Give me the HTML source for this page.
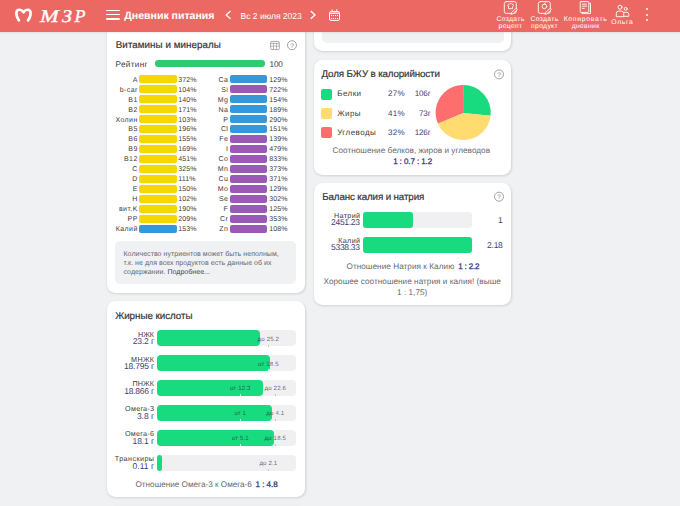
<!DOCTYPE html><html><head><meta charset="utf-8"><style>
html,body{margin:0;padding:0;}
body{width:680px;height:506px;overflow:hidden;background:#F0F1F3;position:relative;font-family:"Liberation Sans", "Noto Sans CJK SC", sans-serif;text-rendering:geometricPrecision;}
.t{position:absolute;white-space:nowrap;}
.b{position:absolute;}
.card{position:absolute;background:#fff;border-radius:8.5px;box-shadow:0.5px 1px 2.5px rgba(0,0,0,0.13);}
svg{position:absolute;overflow:visible;left:0;top:0;}
</style></head><body>
<div class="card" style="left:107px;top:20px;width:197.5px;height:272.6px;"></div>
<div class="card" style="left:313.5px;top:0px;width:197.7px;height:50.5px;"></div>
<div class="card" style="left:313.5px;top:60px;width:197.7px;height:114.5px;"></div>
<div class="card" style="left:313.5px;top:183px;width:197.7px;height:121.69999999999999px;"></div>
<div class="card" style="left:107px;top:301.1px;width:197.5px;height:196.39999999999998px;"></div>
<div class="card" style="left:107px;top:506px;width:197.5px;height:54px;"></div>
<div class="b" style="left:321.80px;top:20.00px;width:182.00px;height:22.80px;background:#F0F1F3;border-radius:5px;"></div>
<div class="b" style="left:0.00px;top:0.00px;width:680.00px;height:32.40px;background:#EC6963;border-radius:0px;box-shadow:0 1px 2px rgba(0,0,0,0.08);"></div>
<svg width="680" height="32"><path d="M19 20.5 C17 17.5 16.2 15 16.4 12.5 C16.6 10.3 18.3 9.6 19.8 9.7 C21.5 9.8 22.8 11 23.5 12.3 C24.2 11 25.5 9.8 27.2 9.7 C28.7 9.6 30.4 10.3 30.6 12.5 C30.8 15 30 17.5 28 20.5" fill="none" stroke="#fff" stroke-width="2.6" stroke-linecap="round" stroke-linejoin="round"/></svg>
<div class="t" style="left:39.60px;top:7px;font-size:18px;line-height:18px;color:#fff;font-weight:400;font-family:'Liberation Serif',serif;font-style:italic;-webkit-text-stroke:0.35px #fff;transform-origin:0 0;transform:scaleX(1.25);">М</div>
<div class="t" style="left:62.30px;top:7px;font-size:18px;line-height:18px;color:#fff;font-weight:400;font-family:'Liberation Serif',serif;font-style:italic;-webkit-text-stroke:0.35px #fff;transform-origin:0 0;transform:scaleX(1.12);">З</div>
<div class="t" style="left:74.60px;top:7px;font-size:18px;line-height:18px;color:#fff;font-weight:400;font-family:'Liberation Serif',serif;font-style:italic;-webkit-text-stroke:0.35px #fff;transform-origin:0 0;">Р</div>
<div class="b" style="left:106.30px;top:9.80px;width:13.30px;height:1.60px;background:#fff;border-radius:1px;"></div>
<div class="b" style="left:106.30px;top:13.90px;width:13.30px;height:1.60px;background:#fff;border-radius:1px;"></div>
<div class="b" style="left:106.30px;top:18.00px;width:13.30px;height:1.60px;background:#fff;border-radius:1px;"></div>
<div class="t" style="left:124.30px;top:11px;font-size:10.6px;line-height:10.6px;color:#fff;font-weight:700;letter-spacing:-0.028px;">Дневник питания</div>
<svg width="680" height="32"><path d="M230.5 11 L226.2 14.9 L230.5 18.8" fill="none" stroke="#fff" stroke-width="1.3"/><path d="M310.7 11 L315 14.9 L310.7 18.8" fill="none" stroke="#fff" stroke-width="1.3"/></svg>
<div class="t" style="left:240.50px;top:12px;font-size:8.6px;line-height:8.6px;color:#fff;font-weight:400;letter-spacing:-0.033px;">Вс 2 июля 2023</div>
<svg width="680" height="32" fill="none" stroke="#fff" stroke-width="1">
<rect x="329.5" y="11.5" width="10" height="8.9" rx="1.4"/>
<line x1="329.5" y1="13.2" x2="339.5" y2="13.2" stroke-width="1.3"/>
<line x1="332.1" y1="9.3" x2="332.1" y2="12"/><line x1="336.8" y1="9.3" x2="336.8" y2="12"/>
<g fill="#fff" stroke="none">
<rect x="331" y="15" width="1" height="1"/><rect x="333" y="15" width="1" height="1"/><rect x="335" y="15" width="1" height="1"/><rect x="337" y="15" width="1" height="1"/>
<rect x="331" y="18" width="1" height="1"/><rect x="333" y="18" width="1" height="1"/><rect x="335" y="18" width="1" height="1"/><rect x="337" y="18" width="1" height="1"/>
</g>
</svg>
<svg width="680" height="32" fill="none" stroke="#fff" stroke-width="0.9" stroke-linecap="round" stroke-linejoin="round">
<rect x="504.3" y="1.6" width="12" height="11.8" rx="2"/>
<path d="M507.8 5.9 a1.3 1.3 0 0 1 1.5 -1.7 a1.5 1.5 0 0 1 2.6 0 a1.3 1.3 0 0 1 1.5 1.7 l-0.8 0.7 v2.1 h-4 v-2.1 z"/>
<path d="M511.6 12.6 l4.4 -4.4 l1.3 1.3 l-4.4 4.4 l-1.6 0.3 z" fill="#EC6963"/>
<rect x="538.3" y="1.6" width="12" height="11.8" rx="2"/>
<circle cx="544.4" cy="6.4" r="2.3"/><path d="M544.4 4.1 l0.7 -1.2"/>
<path d="M545.6 12.6 l4.4 -4.4 l1.3 1.3 l-4.4 4.4 l-1.6 0.3 z" fill="#EC6963"/>
<path d="M589.3 3.3 h1.2 v10.3 h-8.6 v-1"/>
<rect x="580.2" y="1.6" width="8.6" height="10.8" rx="0.8"/>
<line x1="582.3" y1="4.1" x2="586.3" y2="4.1"/><line x1="582.3" y1="6.2" x2="586.6" y2="6.2"/><line x1="582.3" y1="8.4" x2="584.3" y2="8.4"/>
<circle cx="620" cy="7.2" r="2"/><path d="M616.3 16.3 v-3 a2.2 2.2 0 0 1 2.2 -2.2 h3 a2.2 2.2 0 0 1 2.2 2.2 v3 z"/>
<circle cx="625.7" cy="8.9" r="1.5"/><path d="M624.2 12.3 h2.6 a2 2 0 0 1 2 2 v2 h-5"/>
</svg>
<div class="t" style="left:360.50px;width:300px;text-align:center;top:17px;font-size:6.8px;line-height:6.8px;color:#fff;font-weight:400;letter-spacing:0.309px;">Создать</div>
<div class="t" style="left:360.50px;width:300px;text-align:center;top:24px;font-size:6.8px;line-height:6.8px;color:#fff;font-weight:400;letter-spacing:0.309px;">рецепт</div>
<div class="t" style="left:394.50px;width:300px;text-align:center;top:17px;font-size:6.8px;line-height:6.8px;color:#fff;font-weight:400;letter-spacing:0.309px;">Создать</div>
<div class="t" style="left:394.50px;width:300px;text-align:center;top:24px;font-size:6.8px;line-height:6.8px;color:#fff;font-weight:400;letter-spacing:0.309px;">продукт</div>
<div class="t" style="left:435.60px;width:300px;text-align:center;top:17px;font-size:6.8px;line-height:6.8px;color:#fff;font-weight:400;letter-spacing:0.721px;">Копировать</div>
<div class="t" style="left:435.60px;width:300px;text-align:center;top:24px;font-size:6.8px;line-height:6.8px;color:#fff;font-weight:400;letter-spacing:0.309px;">дневник</div>
<div class="t" style="left:472.40px;width:300px;text-align:center;top:20px;font-size:6.8px;line-height:6.8px;color:#fff;font-weight:400;letter-spacing:0.643px;">Ольга</div>
<div class="b" style="left:645.60px;top:7.80px;width:2.00px;height:2.00px;background:#fff;border-radius:1px;"></div>
<div class="b" style="left:645.60px;top:13.60px;width:2.00px;height:2.00px;background:#fff;border-radius:1px;"></div>
<div class="b" style="left:645.60px;top:19.30px;width:2.00px;height:2.00px;background:#fff;border-radius:1px;"></div>
<div class="t" style="left:115.80px;top:41px;font-size:9.8px;line-height:9.8px;color:#35353a;font-weight:400;-webkit-text-stroke:0.2px #35353a;letter-spacing:0.042px;">Витамины и минералы</div>
<svg width="1" height="1" fill="none" stroke="#909090" stroke-width="0.75">
<rect x="270.6" y="41.4" width="8.7" height="8.2" rx="1.3"/>
<line x1="270.6" y1="43.3" x2="279.3" y2="43.3"/>
<line x1="270.6" y1="46.1" x2="279.3" y2="46.1" stroke-width="0.6"/>
<line x1="273.5" y1="43.3" x2="273.5" y2="49.6" stroke-width="0.6"/><line x1="276.5" y1="43.3" x2="276.5" y2="49.6" stroke-width="0.6"/>
</svg>
<svg width="1" height="1"><circle cx="292" cy="45.2" r="4.5" fill="none" stroke="#8a8a8a" stroke-width="0.8"/><text x="292" y="47.5" font-size="6.5" text-anchor="middle" fill="#8a8a8a" font-family="Liberation Sans">?</text></svg>
<div class="t" style="left:115.60px;top:61px;font-size:8.2px;line-height:8.2px;color:#3d3d3f;font-weight:400;letter-spacing:0.306px;">Рейтинг</div>
<div class="b" style="left:155.20px;top:60.20px;width:109.60px;height:6.60px;background:#2ECC71;border-radius:3.3px;"></div>
<div class="t" style="left:269.50px;top:61px;font-size:8.2px;line-height:8.2px;color:#3d3d3f;font-weight:400;letter-spacing:-0.136px;">100</div>
<div class="t" style="right:542.29px;top:77px;font-size:7px;line-height:7px;color:#3c3c3e;font-weight:400;letter-spacing:0.412px;">A</div>
<div class="b" style="left:138.80px;top:75.10px;width:38.20px;height:8.10px;background:#F4D800;border-radius:2px;"></div>
<div class="t" style="left:178.20px;top:77px;font-size:7px;line-height:7px;color:#3c3c3e;font-weight:400;letter-spacing:0.165px;">372%</div>
<div class="t" style="right:451.69px;top:77px;font-size:7px;line-height:7px;color:#3c3c3e;font-weight:400;letter-spacing:0.412px;">Ca</div>
<div class="b" style="left:230.00px;top:75.10px;width:36.60px;height:8.10px;background:#3498DB;border-radius:2px;"></div>
<div class="t" style="left:269.20px;top:77px;font-size:7px;line-height:7px;color:#3c3c3e;font-weight:400;letter-spacing:0.165px;">129%</div>
<div class="t" style="right:542.29px;top:87px;font-size:7px;line-height:7px;color:#3c3c3e;font-weight:400;letter-spacing:0.412px;">b-car</div>
<div class="b" style="left:138.80px;top:85.07px;width:38.20px;height:8.10px;background:#F4D800;border-radius:2px;"></div>
<div class="t" style="left:178.20px;top:87px;font-size:7px;line-height:7px;color:#3c3c3e;font-weight:400;letter-spacing:0.165px;">104%</div>
<div class="t" style="right:451.69px;top:87px;font-size:7px;line-height:7px;color:#3c3c3e;font-weight:400;letter-spacing:0.412px;">Si</div>
<div class="b" style="left:230.00px;top:85.07px;width:36.60px;height:8.10px;background:#9B59B6;border-radius:2px;"></div>
<div class="t" style="left:269.20px;top:87px;font-size:7px;line-height:7px;color:#3c3c3e;font-weight:400;letter-spacing:0.165px;">722%</div>
<div class="t" style="right:542.29px;top:97px;font-size:7px;line-height:7px;color:#3c3c3e;font-weight:400;letter-spacing:0.412px;">B1</div>
<div class="b" style="left:138.80px;top:95.04px;width:38.20px;height:8.10px;background:#F4D800;border-radius:2px;"></div>
<div class="t" style="left:178.20px;top:97px;font-size:7px;line-height:7px;color:#3c3c3e;font-weight:400;letter-spacing:0.165px;">140%</div>
<div class="t" style="right:451.69px;top:97px;font-size:7px;line-height:7px;color:#3c3c3e;font-weight:400;letter-spacing:0.412px;">Mg</div>
<div class="b" style="left:230.00px;top:95.04px;width:36.60px;height:8.10px;background:#3498DB;border-radius:2px;"></div>
<div class="t" style="left:269.20px;top:97px;font-size:7px;line-height:7px;color:#3c3c3e;font-weight:400;letter-spacing:0.165px;">154%</div>
<div class="t" style="right:542.29px;top:107px;font-size:7px;line-height:7px;color:#3c3c3e;font-weight:400;letter-spacing:0.412px;">B2</div>
<div class="b" style="left:138.80px;top:105.01px;width:38.20px;height:8.10px;background:#F4D800;border-radius:2px;"></div>
<div class="t" style="left:178.20px;top:107px;font-size:7px;line-height:7px;color:#3c3c3e;font-weight:400;letter-spacing:0.165px;">171%</div>
<div class="t" style="right:451.69px;top:107px;font-size:7px;line-height:7px;color:#3c3c3e;font-weight:400;letter-spacing:0.412px;">Na</div>
<div class="b" style="left:230.00px;top:105.01px;width:36.60px;height:8.10px;background:#3498DB;border-radius:2px;"></div>
<div class="t" style="left:269.20px;top:107px;font-size:7px;line-height:7px;color:#3c3c3e;font-weight:400;letter-spacing:0.165px;">189%</div>
<div class="t" style="right:542.29px;top:117px;font-size:7px;line-height:7px;color:#3c3c3e;font-weight:400;letter-spacing:0.412px;">Холин</div>
<div class="b" style="left:138.80px;top:114.98px;width:38.20px;height:8.10px;background:#F4D800;border-radius:2px;"></div>
<div class="t" style="left:178.20px;top:117px;font-size:7px;line-height:7px;color:#3c3c3e;font-weight:400;letter-spacing:0.165px;">103%</div>
<div class="t" style="right:451.69px;top:117px;font-size:7px;line-height:7px;color:#3c3c3e;font-weight:400;letter-spacing:0.412px;">P</div>
<div class="b" style="left:230.00px;top:114.98px;width:36.60px;height:8.10px;background:#3498DB;border-radius:2px;"></div>
<div class="t" style="left:269.20px;top:117px;font-size:7px;line-height:7px;color:#3c3c3e;font-weight:400;letter-spacing:0.165px;">290%</div>
<div class="t" style="right:542.29px;top:126px;font-size:7px;line-height:7px;color:#3c3c3e;font-weight:400;letter-spacing:0.412px;">B5</div>
<div class="b" style="left:138.80px;top:124.95px;width:38.20px;height:8.10px;background:#F4D800;border-radius:2px;"></div>
<div class="t" style="left:178.20px;top:126px;font-size:7px;line-height:7px;color:#3c3c3e;font-weight:400;letter-spacing:0.165px;">196%</div>
<div class="t" style="right:451.69px;top:126px;font-size:7px;line-height:7px;color:#3c3c3e;font-weight:400;letter-spacing:0.412px;">Cl</div>
<div class="b" style="left:230.00px;top:124.95px;width:36.60px;height:8.10px;background:#3498DB;border-radius:2px;"></div>
<div class="t" style="left:269.20px;top:126px;font-size:7px;line-height:7px;color:#3c3c3e;font-weight:400;letter-spacing:0.165px;">151%</div>
<div class="t" style="right:542.29px;top:136px;font-size:7px;line-height:7px;color:#3c3c3e;font-weight:400;letter-spacing:0.412px;">B6</div>
<div class="b" style="left:138.80px;top:134.92px;width:38.20px;height:8.10px;background:#F4D800;border-radius:2px;"></div>
<div class="t" style="left:178.20px;top:136px;font-size:7px;line-height:7px;color:#3c3c3e;font-weight:400;letter-spacing:0.165px;">155%</div>
<div class="t" style="right:451.69px;top:136px;font-size:7px;line-height:7px;color:#3c3c3e;font-weight:400;letter-spacing:0.412px;">Fe</div>
<div class="b" style="left:230.00px;top:134.92px;width:36.60px;height:8.10px;background:#9B59B6;border-radius:2px;"></div>
<div class="t" style="left:269.20px;top:136px;font-size:7px;line-height:7px;color:#3c3c3e;font-weight:400;letter-spacing:0.165px;">139%</div>
<div class="t" style="right:542.29px;top:146px;font-size:7px;line-height:7px;color:#3c3c3e;font-weight:400;letter-spacing:0.412px;">B9</div>
<div class="b" style="left:138.80px;top:144.89px;width:38.20px;height:8.10px;background:#F4D800;border-radius:2px;"></div>
<div class="t" style="left:178.20px;top:146px;font-size:7px;line-height:7px;color:#3c3c3e;font-weight:400;letter-spacing:0.165px;">169%</div>
<div class="t" style="right:451.69px;top:146px;font-size:7px;line-height:7px;color:#3c3c3e;font-weight:400;letter-spacing:0.412px;">I</div>
<div class="b" style="left:230.00px;top:144.89px;width:36.60px;height:8.10px;background:#9B59B6;border-radius:2px;"></div>
<div class="t" style="left:269.20px;top:146px;font-size:7px;line-height:7px;color:#3c3c3e;font-weight:400;letter-spacing:0.165px;">479%</div>
<div class="t" style="right:542.29px;top:156px;font-size:7px;line-height:7px;color:#3c3c3e;font-weight:400;letter-spacing:0.412px;">B12</div>
<div class="b" style="left:138.80px;top:154.86px;width:38.20px;height:8.10px;background:#F4D800;border-radius:2px;"></div>
<div class="t" style="left:178.20px;top:156px;font-size:7px;line-height:7px;color:#3c3c3e;font-weight:400;letter-spacing:0.165px;">451%</div>
<div class="t" style="right:451.69px;top:156px;font-size:7px;line-height:7px;color:#3c3c3e;font-weight:400;letter-spacing:0.412px;">Co</div>
<div class="b" style="left:230.00px;top:154.86px;width:36.60px;height:8.10px;background:#9B59B6;border-radius:2px;"></div>
<div class="t" style="left:269.20px;top:156px;font-size:7px;line-height:7px;color:#3c3c3e;font-weight:400;letter-spacing:0.165px;">833%</div>
<div class="t" style="right:542.29px;top:166px;font-size:7px;line-height:7px;color:#3c3c3e;font-weight:400;letter-spacing:0.412px;">C</div>
<div class="b" style="left:138.80px;top:164.83px;width:38.20px;height:8.10px;background:#F4D800;border-radius:2px;"></div>
<div class="t" style="left:178.20px;top:166px;font-size:7px;line-height:7px;color:#3c3c3e;font-weight:400;letter-spacing:0.165px;">325%</div>
<div class="t" style="right:451.69px;top:166px;font-size:7px;line-height:7px;color:#3c3c3e;font-weight:400;letter-spacing:0.412px;">Mn</div>
<div class="b" style="left:230.00px;top:164.83px;width:36.60px;height:8.10px;background:#9B59B6;border-radius:2px;"></div>
<div class="t" style="left:269.20px;top:166px;font-size:7px;line-height:7px;color:#3c3c3e;font-weight:400;letter-spacing:0.165px;">373%</div>
<div class="t" style="right:542.29px;top:176px;font-size:7px;line-height:7px;color:#3c3c3e;font-weight:400;letter-spacing:0.412px;">D</div>
<div class="b" style="left:138.80px;top:174.80px;width:38.20px;height:8.10px;background:#F4D800;border-radius:2px;"></div>
<div class="t" style="left:178.20px;top:176px;font-size:7px;line-height:7px;color:#3c3c3e;font-weight:400;letter-spacing:0.165px;">111%</div>
<div class="t" style="right:451.69px;top:176px;font-size:7px;line-height:7px;color:#3c3c3e;font-weight:400;letter-spacing:0.412px;">Cu</div>
<div class="b" style="left:230.00px;top:174.80px;width:36.60px;height:8.10px;background:#9B59B6;border-radius:2px;"></div>
<div class="t" style="left:269.20px;top:176px;font-size:7px;line-height:7px;color:#3c3c3e;font-weight:400;letter-spacing:0.165px;">371%</div>
<div class="t" style="right:542.29px;top:186px;font-size:7px;line-height:7px;color:#3c3c3e;font-weight:400;letter-spacing:0.412px;">E</div>
<div class="b" style="left:138.80px;top:184.77px;width:38.20px;height:8.10px;background:#F4D800;border-radius:2px;"></div>
<div class="t" style="left:178.20px;top:186px;font-size:7px;line-height:7px;color:#3c3c3e;font-weight:400;letter-spacing:0.165px;">150%</div>
<div class="t" style="right:451.69px;top:186px;font-size:7px;line-height:7px;color:#3c3c3e;font-weight:400;letter-spacing:0.412px;">Mo</div>
<div class="b" style="left:230.00px;top:184.77px;width:36.60px;height:8.10px;background:#9B59B6;border-radius:2px;"></div>
<div class="t" style="left:269.20px;top:186px;font-size:7px;line-height:7px;color:#3c3c3e;font-weight:400;letter-spacing:0.165px;">129%</div>
<div class="t" style="right:542.29px;top:196px;font-size:7px;line-height:7px;color:#3c3c3e;font-weight:400;letter-spacing:0.412px;">H</div>
<div class="b" style="left:138.80px;top:194.74px;width:38.20px;height:8.10px;background:#F4D800;border-radius:2px;"></div>
<div class="t" style="left:178.20px;top:196px;font-size:7px;line-height:7px;color:#3c3c3e;font-weight:400;letter-spacing:0.165px;">102%</div>
<div class="t" style="right:451.69px;top:196px;font-size:7px;line-height:7px;color:#3c3c3e;font-weight:400;letter-spacing:0.412px;">Se</div>
<div class="b" style="left:230.00px;top:194.74px;width:36.60px;height:8.10px;background:#9B59B6;border-radius:2px;"></div>
<div class="t" style="left:269.20px;top:196px;font-size:7px;line-height:7px;color:#3c3c3e;font-weight:400;letter-spacing:0.165px;">302%</div>
<div class="t" style="right:542.29px;top:206px;font-size:7px;line-height:7px;color:#3c3c3e;font-weight:400;letter-spacing:0.412px;">вит.K</div>
<div class="b" style="left:138.80px;top:204.71px;width:38.20px;height:8.10px;background:#F4D800;border-radius:2px;"></div>
<div class="t" style="left:178.20px;top:206px;font-size:7px;line-height:7px;color:#3c3c3e;font-weight:400;letter-spacing:0.165px;">190%</div>
<div class="t" style="right:451.69px;top:206px;font-size:7px;line-height:7px;color:#3c3c3e;font-weight:400;letter-spacing:0.412px;">F</div>
<div class="b" style="left:230.00px;top:204.71px;width:36.60px;height:8.10px;background:#9B59B6;border-radius:2px;"></div>
<div class="t" style="left:269.20px;top:206px;font-size:7px;line-height:7px;color:#3c3c3e;font-weight:400;letter-spacing:0.165px;">125%</div>
<div class="t" style="right:542.29px;top:216px;font-size:7px;line-height:7px;color:#3c3c3e;font-weight:400;letter-spacing:0.412px;">PP</div>
<div class="b" style="left:138.80px;top:214.68px;width:38.20px;height:8.10px;background:#F4D800;border-radius:2px;"></div>
<div class="t" style="left:178.20px;top:216px;font-size:7px;line-height:7px;color:#3c3c3e;font-weight:400;letter-spacing:0.165px;">209%</div>
<div class="t" style="right:451.69px;top:216px;font-size:7px;line-height:7px;color:#3c3c3e;font-weight:400;letter-spacing:0.412px;">Cr</div>
<div class="b" style="left:230.00px;top:214.68px;width:36.60px;height:8.10px;background:#9B59B6;border-radius:2px;"></div>
<div class="t" style="left:269.20px;top:216px;font-size:7px;line-height:7px;color:#3c3c3e;font-weight:400;letter-spacing:0.165px;">353%</div>
<div class="t" style="right:542.29px;top:226px;font-size:7px;line-height:7px;color:#3c3c3e;font-weight:400;letter-spacing:0.412px;">Калий</div>
<div class="b" style="left:138.80px;top:224.65px;width:38.20px;height:8.10px;background:#3498DB;border-radius:2px;"></div>
<div class="t" style="left:178.20px;top:226px;font-size:7px;line-height:7px;color:#3c3c3e;font-weight:400;letter-spacing:0.165px;">153%</div>
<div class="t" style="right:451.69px;top:226px;font-size:7px;line-height:7px;color:#3c3c3e;font-weight:400;letter-spacing:0.412px;">Zn</div>
<div class="b" style="left:230.00px;top:224.65px;width:36.60px;height:8.10px;background:#9B59B6;border-radius:2px;"></div>
<div class="t" style="left:269.20px;top:226px;font-size:7px;line-height:7px;color:#3c3c3e;font-weight:400;letter-spacing:0.165px;">108%</div>
<div class="b" style="left:115.40px;top:241.30px;width:180.80px;height:42.30px;background:#F0F1F3;border-radius:5px;"></div>
<div class="t" style="left:123.50px;top:251px;font-size:7px;line-height:7px;color:#68686d;font-weight:400;letter-spacing:0.045px;">Количество нутриентов может быть неполным,</div>
<div class="t" style="left:123.50px;top:260px;font-size:7px;line-height:7px;color:#68686d;font-weight:400;letter-spacing:0.045px;">т.к. не для всех продуктов есть данные об их</div>
<div class="t" style="left:123.50px;top:269px;font-size:7px;line-height:7px;color:#68686d;font-weight:400;letter-spacing:0.045px;">содержании. <span style="color:#3b3e78">Подробнее...</span></div>
<div class="t" style="left:321.50px;top:70px;font-size:9.8px;line-height:9.8px;color:#35353a;font-weight:400;-webkit-text-stroke:0.2px #35353a;letter-spacing:-0.147px;">Доля БЖУ в калорийности</div>
<svg width="1" height="1"><circle cx="499" cy="74.4" r="4.5" fill="none" stroke="#8a8a8a" stroke-width="0.8"/><text x="499" y="76.7" font-size="6.5" text-anchor="middle" fill="#8a8a8a" font-family="Liberation Sans">?</text></svg>
<div class="b" style="left:321.30px;top:88.70px;width:11.00px;height:10.90px;background:#18DA7F;border-radius:2px;"></div>
<div class="t" style="left:337.20px;top:90px;font-size:8px;line-height:8px;color:#3c3c3e;font-weight:400;letter-spacing:0.452px;">Белки</div>
<div class="t" style="left:388.10px;top:90px;font-size:8px;line-height:8px;color:#3b3e78;font-weight:400;letter-spacing:0.242px;">27%</div>
<div class="t" style="right:249.52px;top:90px;font-size:8px;line-height:8px;color:#3b3e78;font-weight:400;letter-spacing:-0.122px;">106г</div>
<div class="b" style="left:321.30px;top:108.00px;width:11.00px;height:10.90px;background:#FFDB70;border-radius:2px;"></div>
<div class="t" style="left:337.20px;top:110px;font-size:8px;line-height:8px;color:#3c3c3e;font-weight:400;letter-spacing:0.452px;">Жиры</div>
<div class="t" style="left:388.10px;top:110px;font-size:8px;line-height:8px;color:#3b3e78;font-weight:400;letter-spacing:0.242px;">41%</div>
<div class="t" style="right:249.52px;top:110px;font-size:8px;line-height:8px;color:#3b3e78;font-weight:400;letter-spacing:-0.122px;">73г</div>
<div class="b" style="left:321.30px;top:127.30px;width:11.00px;height:10.90px;background:#FF6E6E;border-radius:2px;"></div>
<div class="t" style="left:337.20px;top:129px;font-size:8px;line-height:8px;color:#3c3c3e;font-weight:400;letter-spacing:0.452px;">Углеводы</div>
<div class="t" style="left:388.10px;top:129px;font-size:8px;line-height:8px;color:#3b3e78;font-weight:400;letter-spacing:0.242px;">32%</div>
<div class="t" style="right:249.52px;top:129px;font-size:8px;line-height:8px;color:#3b3e78;font-weight:400;letter-spacing:-0.122px;">126г</div>
<svg width="1" height="1"><path d="M463.1 112.9 L463.20 84.95 A27.55 27.55 0 0 1 490.57 115.63 Z" fill="#18DA7F"/><path d="M463.1 112.9 L490.57 115.63 A27.55 27.55 0 0 1 437.93 123.47 Z" fill="#FFDB70"/><path d="M463.1 112.9 L437.93 123.47 A27.55 27.55 0 0 1 463.20 84.95 Z" fill="#FF6E6E"/></svg>
<div class="t" style="left:261.30px;width:300px;text-align:center;top:147px;font-size:8.2px;line-height:8.2px;color:#68686d;font-weight:400;letter-spacing:0.023px;">Соотношение белков, жиров и углеводов</div>
<div class="t" style="left:262.60px;width:300px;text-align:center;top:158px;font-size:8px;line-height:8px;color:#3b3e78;font-weight:400;-webkit-text-stroke:0.3px #3b3e78;letter-spacing:-0.086px;">1 : 0.7 : 1.2</div>
<div class="t" style="left:322.20px;top:193px;font-size:9.8px;line-height:9.8px;color:#35353a;font-weight:400;-webkit-text-stroke:0.2px #35353a;letter-spacing:-0.135px;">Баланс калия и натрия</div>
<svg width="1" height="1"><circle cx="499" cy="196.7" r="4.5" fill="none" stroke="#8a8a8a" stroke-width="0.8"/><text x="499" y="199.0" font-size="6.5" text-anchor="middle" fill="#8a8a8a" font-family="Liberation Sans">?</text></svg>
<div class="b" style="left:363.00px;top:212.10px;width:109.00px;height:15.60px;background:#F0F0F2;border-radius:3px;"></div>
<div class="b" style="left:363.00px;top:212.10px;width:50.00px;height:15.60px;background:#18DA7F;border-radius:3px;"></div>
<div class="t" style="right:319.67px;top:212px;font-size:7.2px;line-height:7.2px;color:#3c3c3e;font-weight:400;letter-spacing:0.328px;">Натрий</div>
<div class="t" style="right:320.31px;top:218px;font-size:8.5px;line-height:8.5px;color:#3b3e78;font-weight:400;letter-spacing:-0.306px;">2451.23</div>
<div class="t" style="right:177.48px;top:216px;font-size:8.5px;line-height:8.5px;color:#3b3e78;font-weight:400;letter-spacing:-0.282px;">1</div>
<div class="b" style="left:363.00px;top:236.50px;width:109.00px;height:16.50px;background:#F0F0F2;border-radius:3px;"></div>
<div class="b" style="left:363.00px;top:236.50px;width:109.00px;height:16.50px;background:#18DA7F;border-radius:3px;"></div>
<div class="t" style="right:319.67px;top:237px;font-size:7.2px;line-height:7.2px;color:#3c3c3e;font-weight:400;letter-spacing:0.328px;">Калий</div>
<div class="t" style="right:320.31px;top:243px;font-size:8.5px;line-height:8.5px;color:#3b3e78;font-weight:400;letter-spacing:-0.306px;">5338.33</div>
<div class="t" style="right:177.48px;top:241px;font-size:8.5px;line-height:8.5px;color:#3b3e78;font-weight:400;letter-spacing:-0.282px;">2.18</div>
<div class="t" style="left:346.50px;top:263px;font-size:8.2px;line-height:8.2px;color:#68686d;font-weight:400;letter-spacing:0.044px;">Отношение Натрия к Калию</div>
<div class="t" style="left:458.20px;top:263px;font-size:8px;line-height:8px;color:#3b3e78;font-weight:400;-webkit-text-stroke:0.3px #3b3e78;letter-spacing:-0.158px;">1 : 2.2</div>
<div class="t" style="left:262.20px;width:300px;text-align:center;top:278px;font-size:8.2px;line-height:8.2px;color:#68686d;font-weight:400;letter-spacing:0.032px;">Хорошее соотношение натрия и калия! (выше</div>
<div class="t" style="left:262.20px;width:300px;text-align:center;top:289px;font-size:8.2px;line-height:8.2px;color:#68686d;font-weight:400;letter-spacing:0.032px;">1 : 1,75)</div>
<div class="t" style="left:115.20px;top:312px;font-size:9.8px;line-height:9.8px;color:#35353a;font-weight:400;-webkit-text-stroke:0.2px #35353a;letter-spacing:-0.042px;">Жирные кислоты</div>
<div class="b" style="left:156.80px;top:330.30px;width:139.20px;height:16.20px;background:#F0F0F2;border-radius:4px;"></div>
<div class="b" style="left:156.80px;top:330.30px;width:103.00px;height:16.20px;background:#18DA7F;border-radius:4px;"></div>
<div class="t" style="right:526.01px;top:331px;font-size:7.2px;line-height:7.2px;color:#3c3c3e;font-weight:400;letter-spacing:-0.008px;">НЖК</div>
<div class="t" style="right:526.14px;top:337px;font-size:8.5px;line-height:8.5px;color:#3b3e78;font-weight:400;letter-spacing:-0.143px;">23.2 г</div>
<div class="b" style="left:268.00px;top:344.50px;width:0.80px;height:2.00px;background:#c8c8c8;border-radius:0px;"></div>
<div class="t" style="left:118.40px;width:300px;text-align:center;top:337px;font-size:6.1px;line-height:6.1px;color:rgba(40,40,40,0.7);font-weight:400;letter-spacing:0.148px;">до 25.2</div>
<div class="b" style="left:156.80px;top:355.23px;width:139.20px;height:16.20px;background:#F0F0F2;border-radius:4px;"></div>
<div class="b" style="left:156.80px;top:355.23px;width:113.60px;height:16.20px;background:#18DA7F;border-radius:4px;"></div>
<div class="t" style="right:525.71px;top:356px;font-size:7.2px;line-height:7.2px;color:#3c3c3e;font-weight:400;letter-spacing:0.295px;">МНЖК</div>
<div class="t" style="right:526.21px;top:362px;font-size:8.5px;line-height:8.5px;color:#3b3e78;font-weight:400;letter-spacing:-0.210px;">18.795 г</div>
<div class="b" style="left:268.00px;top:369.43px;width:0.80px;height:2.00px;background:rgba(255,255,255,0.8);border-radius:0px;"></div>
<div class="t" style="left:118.40px;width:300px;text-align:center;top:362px;font-size:6.1px;line-height:6.1px;color:rgba(40,40,40,0.7);font-weight:400;letter-spacing:0.148px;">от 18.5</div>
<div class="b" style="left:156.80px;top:380.16px;width:139.20px;height:16.20px;background:#F0F0F2;border-radius:4px;"></div>
<div class="b" style="left:156.80px;top:380.16px;width:106.00px;height:16.20px;background:#18DA7F;border-radius:4px;"></div>
<div class="t" style="right:525.90px;top:380px;font-size:7.2px;line-height:7.2px;color:#3c3c3e;font-weight:400;letter-spacing:0.104px;">ПНЖК</div>
<div class="t" style="right:526.25px;top:387px;font-size:8.5px;line-height:8.5px;color:#3b3e78;font-weight:400;letter-spacing:-0.253px;">18.866 г</div>
<div class="b" style="left:239.90px;top:394.36px;width:0.80px;height:2.00px;background:rgba(255,255,255,0.8);border-radius:0px;"></div>
<div class="t" style="left:90.30px;width:300px;text-align:center;top:386px;font-size:6.1px;line-height:6.1px;color:rgba(40,40,40,0.7);font-weight:400;letter-spacing:0.148px;">от 12.3</div>
<div class="b" style="left:274.90px;top:394.36px;width:0.80px;height:2.00px;background:#c8c8c8;border-radius:0px;"></div>
<div class="t" style="left:125.30px;width:300px;text-align:center;top:386px;font-size:6.1px;line-height:6.1px;color:rgba(40,40,40,0.7);font-weight:400;letter-spacing:0.148px;">до 22.6</div>
<div class="b" style="left:156.80px;top:405.09px;width:139.20px;height:16.20px;background:#F0F0F2;border-radius:4px;"></div>
<div class="b" style="left:156.80px;top:405.09px;width:115.20px;height:16.20px;background:#18DA7F;border-radius:4px;"></div>
<div class="t" style="right:525.75px;top:405px;font-size:7.2px;line-height:7.2px;color:#3c3c3e;font-weight:400;letter-spacing:0.252px;">Омега-3</div>
<div class="t" style="right:526.05px;top:412px;font-size:8.5px;line-height:8.5px;color:#3b3e78;font-weight:400;letter-spacing:-0.045px;">3.8 г</div>
<div class="b" style="left:239.90px;top:419.29px;width:0.80px;height:2.00px;background:rgba(255,255,255,0.8);border-radius:0px;"></div>
<div class="t" style="left:90.30px;width:300px;text-align:center;top:411px;font-size:6.1px;line-height:6.1px;color:rgba(40,40,40,0.7);font-weight:400;letter-spacing:0.148px;">от 1</div>
<div class="b" style="left:274.90px;top:419.29px;width:0.80px;height:2.00px;background:#c8c8c8;border-radius:0px;"></div>
<div class="t" style="left:125.30px;width:300px;text-align:center;top:411px;font-size:6.1px;line-height:6.1px;color:rgba(40,40,40,0.7);font-weight:400;letter-spacing:0.148px;">до 4.1</div>
<div class="b" style="left:156.80px;top:430.02px;width:139.20px;height:16.20px;background:#F0F0F2;border-radius:4px;"></div>
<div class="b" style="left:156.80px;top:430.02px;width:117.20px;height:16.20px;background:#18DA7F;border-radius:4px;"></div>
<div class="t" style="right:525.72px;top:430px;font-size:7.2px;line-height:7.2px;color:#3c3c3e;font-weight:400;letter-spacing:0.285px;">Омега-6</div>
<div class="t" style="right:526.10px;top:437px;font-size:8.5px;line-height:8.5px;color:#3b3e78;font-weight:400;letter-spacing:-0.103px;">18.1 г</div>
<div class="b" style="left:239.90px;top:444.22px;width:0.80px;height:2.00px;background:rgba(255,255,255,0.8);border-radius:0px;"></div>
<div class="t" style="left:90.30px;width:300px;text-align:center;top:436px;font-size:6.1px;line-height:6.1px;color:rgba(40,40,40,0.7);font-weight:400;letter-spacing:0.148px;">от 5.1</div>
<div class="b" style="left:274.90px;top:444.22px;width:0.80px;height:2.00px;background:#c8c8c8;border-radius:0px;"></div>
<div class="t" style="left:125.30px;width:300px;text-align:center;top:436px;font-size:6.1px;line-height:6.1px;color:rgba(40,40,40,0.7);font-weight:400;letter-spacing:0.148px;">до 18.5</div>
<div class="b" style="left:156.80px;top:454.95px;width:139.20px;height:16.20px;background:#F0F0F2;border-radius:4px;"></div>
<div class="b" style="left:156.80px;top:454.95px;width:5.70px;height:16.20px;background:#18DA7F;border-radius:4px;"></div>
<div class="t" style="right:525.58px;top:455px;font-size:7.2px;line-height:7.2px;color:#3c3c3e;font-weight:400;letter-spacing:0.416px;">Транскиры</div>
<div class="t" style="right:525.98px;top:462px;font-size:8.5px;line-height:8.5px;color:#3b3e78;font-weight:400;letter-spacing:0.025px;">0.11 г</div>
<div class="b" style="left:268.00px;top:469.15px;width:0.80px;height:2.00px;background:#c8c8c8;border-radius:0px;"></div>
<div class="t" style="left:118.40px;width:300px;text-align:center;top:461px;font-size:6.1px;line-height:6.1px;color:rgba(40,40,40,0.7);font-weight:400;letter-spacing:0.148px;">до 2.1</div>
<div class="t" style="left:135.50px;top:481px;font-size:8.2px;line-height:8.2px;color:#68686d;font-weight:400;letter-spacing:-0.014px;">Отношение Омега-3 к Омега-6</div>
<div class="t" style="left:255.60px;top:481px;font-size:8px;line-height:8px;color:#3b3e78;font-weight:400;-webkit-text-stroke:0.3px #3b3e78;letter-spacing:-0.025px;">1 : 4.8</div>
</body></html>
